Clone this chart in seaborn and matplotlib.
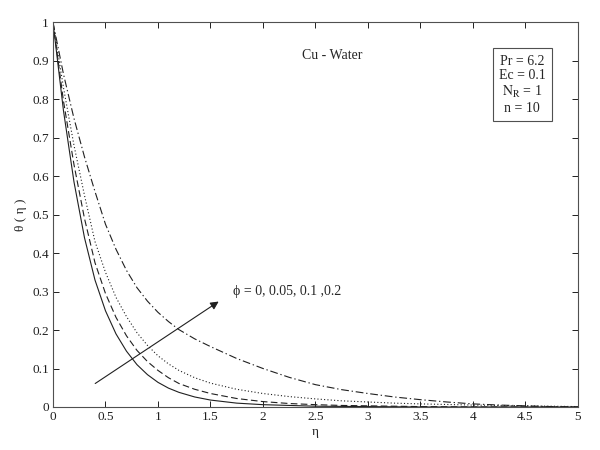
import numpy as np
import pandas as pd
import matplotlib
matplotlib.use("Agg")
import matplotlib.pyplot as plt
import seaborn as sns

# ---- data ----
eta = [0, 0.1, 0.2, 0.3, 0.4, 0.5, 0.6, 0.7, 0.8, 0.9, 1.0, 1.1, 1.2, 1.35, 1.5, 1.75,
       2.0, 2.25, 2.5, 2.75, 3.0, 3.25, 3.5, 3.75, 4.0, 4.25, 4.5, 4.75, 5.0]
theta_phi0 = [1.0, 0.77, 0.585, 0.44, 0.33, 0.25, 0.19, 0.145, 0.11, 0.084, 0.064, 0.049, 0.038,
              0.026, 0.018, 0.010, 0.006, 0.004, 0.002, 0.0015, 0.001, 0.0005, 0.0, 0.0, 0.0, 0.0, 0.0, 0.0, 0.0]
theta_phi005 = [1.0, 0.795, 0.63, 0.49, 0.375, 0.295, 0.233, 0.185, 0.147, 0.118, 0.095, 0.076, 0.061,
                0.046, 0.035, 0.022, 0.014, 0.009, 0.006, 0.004, 0.003, 0.002, 0.001, 0.0005, 0.0, 0.0, 0.0, 0.0, 0.0]
theta_phi01 = [1.0, 0.83, 0.68, 0.55, 0.43, 0.35, 0.285, 0.235, 0.193, 0.16, 0.133, 0.112, 0.095,
               0.076, 0.062, 0.046, 0.035, 0.027, 0.021, 0.016, 0.013, 0.010, 0.008, 0.0065, 0.005, 0.004, 0.003, 0.002, 0.001]
theta_phi02 = [1.0, 0.865, 0.75, 0.65, 0.56, 0.475, 0.41, 0.355, 0.31, 0.275, 0.246, 0.222, 0.201,
               0.177, 0.157, 0.126, 0.10, 0.077, 0.058, 0.045, 0.035, 0.026, 0.019, 0.013, 0.008, 0.005, 0.003, 0.001, 0.0]

x_ticks = [0, 0.5, 1, 1.5, 2, 2.5, 3, 3.5, 4, 4.5, 5]
x_ticklabels = ["0", "0.5", "1", "1.5", "2", "2.5", "3", "3.5", "4", "4.5", "5"]
y_ticks = [0, 0.1, 0.2, 0.3, 0.4, 0.5, 0.6, 0.7, 0.8, 0.9, 1]
y_ticklabels = ["0", "0.1", "0.2", "0.3", "0.4", "0.5", "0.6", "0.7", "0.8", "0.9", "1"]

series = [
    ("0", theta_phi0, "-"),
    ("0.05", theta_phi005, (0, (6, 3))),
    ("0.1", theta_phi01, (0, (1, 2))),
    ("0.2", theta_phi02, (0, (7, 2.5, 1.2, 2.5))),
]

sns.set_style("ticks")
plt.rcParams["font.family"] = ["Liberation Serif", "DejaVu Serif"]
plt.rcParams["mathtext.fontset"] = "stix"

fig = plt.figure(figsize=(6, 4.5), dpi=100)
ax = fig.add_axes([0.0883, 0.0956, 0.875, 0.855])

for name, vals, ls in series:
    df = pd.DataFrame({"eta": eta, "theta": vals})
    sns.lineplot(data=df, x="eta", y="theta", ax=ax, color="#202020",
                 linewidth=0.8, linestyle=ls, estimator=None, sort=False)

ax.set_xlim(0, 5)
ax.set_ylim(0, 1)
ax.set_xticks(x_ticks)
ax.set_xticklabels(x_ticklabels)
ax.set_yticks(y_ticks)
ax.set_yticklabels(y_ticklabels)
ax.tick_params(direction="in", length=4, width=0.7, top=True, right=True,
               labelsize=9.5, colors="#202020", pad=3)
for s in ax.spines.values():
    s.set_visible(True)
    s.set_linewidth(0.8)
    s.set_color("#505050")

ax.set_xlabel("η", fontsize=9.5, labelpad=2)
ax.set_ylabel("θ ( η )", fontsize=9.5, labelpad=4)

ax.annotate("", xy=(1.6, 0.278), xytext=(0.38, 0.057),
            arrowprops=dict(arrowstyle="-|>", color="#202020", lw=0.8,
                            mutation_scale=12))
ax.text(1.71, 0.30, "ϕ = 0, 0.05, 0.1 ,0.2", fontsize=10, va="center", ha="left")
ax.text(2.37, 0.914, "Cu - Water", fontsize=10, va="center", ha="left")
ax.text(4.47, 0.838, "Pr = 6.2\nEc = 0.1\n$\\mathrm{N_R}$ = 1\nn = 10",
        fontsize=10, va="center", ha="center", linespacing=1.15,
        bbox=dict(boxstyle="square,pad=0.45", fc="white", ec="#505050", lw=0.8))

fig.savefig("out.png", dpi=100)
